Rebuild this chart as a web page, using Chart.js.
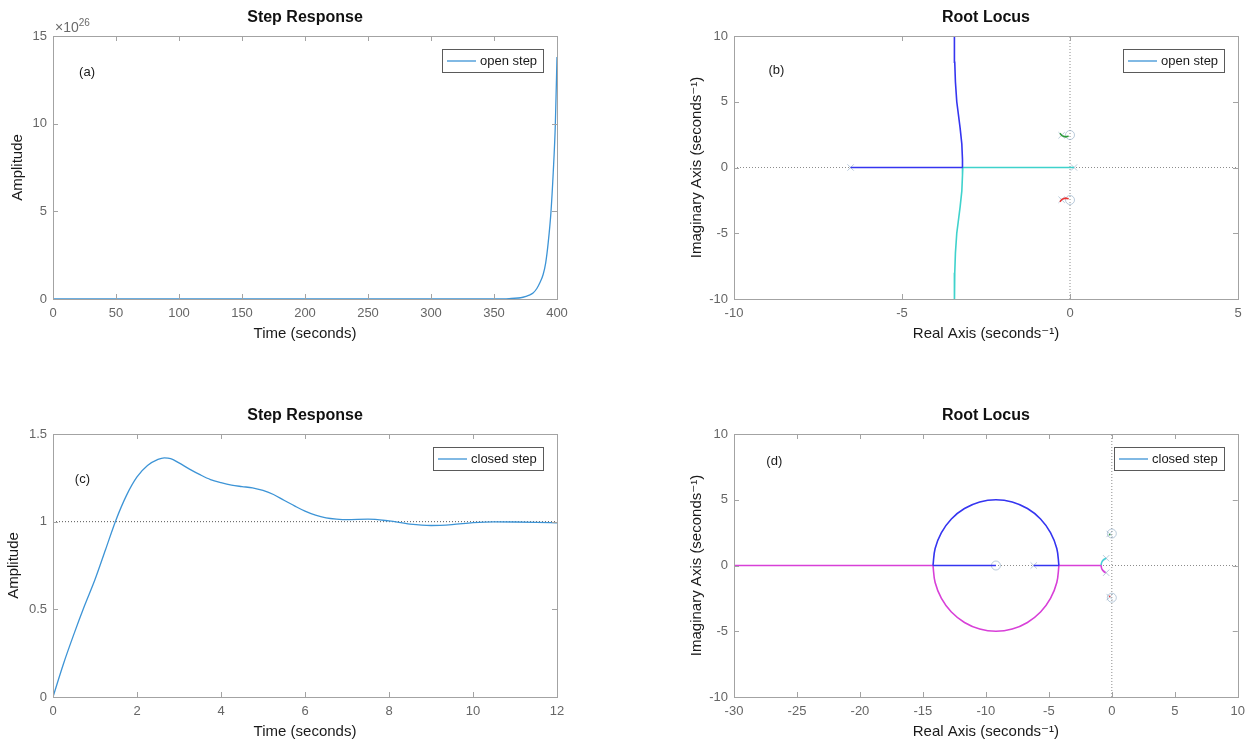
<!DOCTYPE html>
<html>
<head>
<meta charset="utf-8">
<title>Step Response / Root Locus</title>
<script src="https://cdn.jsdelivr.net/npm/chart.js@4.4.1/dist/chart.umd.min.js"></script>
<style>
    html, body { margin: 0; padding: 0; background: #fff; }
    #page { position: relative; width: 1252px; height: 745px; overflow: hidden; }
    .panel { position: absolute; width: 626px; height: 347px; }
    .panel canvas { display: block; }
</style>
</head>
<body>
<div id="page">
    <div class="panel" style="left:0;top:0"><canvas id="chartA" width="626" height="347"></canvas></div>
    <div class="panel" style="left:626px;top:0"><canvas id="chartB" width="626" height="347"></canvas></div>
    <div class="panel" style="left:0;top:398px"><canvas id="chartC" width="626" height="347"></canvas></div>
    <div class="panel" style="left:626px;top:398px"><canvas id="chartD" width="626" height="347"></canvas></div>
</div>
<script>
// (a) open loop step response, amplitude in units of 1e26
const openStepTime = [0, 100, 200, 300, 350, 362, 373, 378, 381, 384, 386.3, 389, 391, 393, 395.25, 397, 398.7, 400];
const openStepAmp = [0, 0, 0, 0, 0, 0.02, 0.1, 0.22, 0.34, 0.6, 0.91, 1.4, 2.05, 3.2, 5, 7.2, 10, 13.8];

// (c) closed loop step response
const closedStepTime = [0, 0.25, 0.5, 0.75, 1, 1.25, 1.5, 1.75, 2, 2.25, 2.5, 2.65, 2.8, 3, 3.25, 3.5, 3.75, 4, 4.25, 4.5,
    4.75, 5, 5.25, 5.5, 5.75, 6, 6.25, 6.5, 6.75, 7, 7.5, 8, 8.5, 9, 9.5, 10, 10.5, 11, 11.5, 12];
const closedStepAmp = [0, 0.19, 0.36, 0.52, 0.67, 0.84, 1.01, 1.15, 1.255, 1.32, 1.355, 1.364, 1.36, 1.335, 1.3, 1.268, 1.24, 1.222, 1.208, 1.2,
    1.193, 1.178, 1.155, 1.122, 1.09, 1.06, 1.037, 1.022, 1.015, 1.012, 1.015, 1.004, 0.986, 0.978, 0.983, 0.994, 0.999, 0.998, 0.996, 0.993];
const steadyLine = [[0, 1], [12, 1]];

// (b) open loop root locus branches [re, im]
const openBlue = [[-6.53, 0], [-3.19, 0], [-3.2, 0.6], [-3.22, 1.8], [-3.27, 3], [-3.33, 4.2], [-3.37, 5], [-3.41, 6.5], [-3.43, 8], [-3.44, 10.5]];
const openCyan = [[0.12, 0], [-3.19, 0], [-3.2, -0.6], [-3.22, -1.8], [-3.27, -3], [-3.33, -4.2], [-3.37, -5], [-3.41, -6.5], [-3.43, -8], [-3.44, -10.5]];
const openGreen = [[-0.3, 2.6], [-0.24, 2.42], [-0.14, 2.33], [-0.04, 2.38]];
const openRed = [[-0.3, -2.6], [-0.24, -2.42], [-0.14, -2.33], [-0.04, -2.38]];
const openPoles = [[-6.53, 0], [0.12, 0], [-0.25, 2.45], [-0.25, -2.45]];
const openZeros = [[0, 2.47], [0, -2.47]];

// (d) closed loop root locus branches [re, im]
const closedBlueReal1 = [[-6.2, 0], [-4.2, 0]];
const closedBlueReal2 = [[-14.2, 0], [-9.2, 0]];
const closedBlueArc = [[-4.2, 0], [-4.37, 1.29], [-4.87, 2.5], [-5.66, 3.54], [-6.7, 4.33], [-7.91, 4.83], [-9.2, 5],
    [-10.49, 4.83], [-11.7, 4.33], [-12.74, 3.54], [-13.53, 2.5], [-14.03, 1.29], [-14.2, 0]];
const closedMagentaReal1 = [[-0.85, 0], [-4.2, 0]];
const closedMagentaReal2 = [[-14.2, 0], [-30, 0]];
const closedMagentaArc = [[-4.2, 0], [-4.37, -1.29], [-4.87, -2.5], [-5.66, -3.54], [-6.7, -4.33], [-7.91, -4.83], [-9.2, -5],
    [-10.49, -4.83], [-11.7, -4.33], [-12.74, -3.54], [-13.53, -2.5], [-14.03, -1.29], [-14.2, 0]];
const closedMagentaHook = [[-0.5, -0.55], [-0.65, -0.45], [-0.8, -0.25], [-0.85, 0]];
const closedCyan = [[-0.45, 0.55], [-0.65, 0.45], [-0.8, 0.25], [-0.85, 0]];
const closedGreen = [[-0.22, 2.36], [-0.12, 2.34]];
const closedRed = [[-0.22, -2.36], [-0.12, -2.34]];
const closedPoles = [[-6.2, 0], [-0.45, 0.55], [-0.45, -0.55], [-0.17, 2.4], [-0.17, -2.4]];
const closedZeros = [[-9.2, 0], [0, 2.43], [0, -2.45]];

const FONT = '"Liberation Sans", Arial, Helvetica, "DejaVu Sans", sans-serif';
const STEP_COLOR = "#3d94d6";
const BLUE = "#3535f0";
const CYAN = "#3fd2cc";
const MAGENTA = "#d840d8";
const GREEN = "#2c9a3a";
const RED = "#ea3434";
const MARKER = "rgba(130,160,190,0.55)";
const AXIS_DOTS = "#8c8c8c";
const LOCUS_WIDTH = 1.6;
Chart.defaults.font.family = FONT;

function toPoints(pairs) {
    return pairs.map((p) => ({ x: p[0], y: p[1] }));
}

function toXY(xs, ys) {
    return xs.map((x, i) => ({ x: x, y: ys[i] }));
}

function lineSet(points, color, extra) {
    return Object.assign({
        data: points,
        showLine: true,
        borderColor: color,
        borderWidth: 1.3,
        pointRadius: 0,
        fill: false,
        tension: 0,
    }, extra || {});
}

// root locus branch
function locusSet(pairs, color, tension) {
    return lineSet(toPoints(pairs), color, { borderWidth: LOCUS_WIDTH, tension: tension || 0 });
}

function dottedSet(pairs, color) {
    return lineSet(toPoints(pairs), color, { borderDash: [1, 2], borderWidth: 1 });
}

function markerSet(pairs, style, color) {
    return {
        data: toPoints(pairs),
        showLine: false,
        pointStyle: style,
        pointRadius: 4.5,
        borderColor: color,
        backgroundColor: "rgba(0,0,0,0)",
        borderWidth: 1,
    };
}

// box, inward ticks, legend, panel label and exponent
const axesBox = {
    id: "axesBox",
    afterDatasetsDraw(chart, args, opts) {
        const { ctx, chartArea: a, scales } = chart;
        const sx = scales.x;
        const sy = scales.y;
        ctx.save();

        // frame
        ctx.strokeStyle = "#a3a3a3";
        ctx.lineWidth = 1;
        ctx.strokeRect(Math.round(a.left) + 0.5, Math.round(a.top) + 0.5, Math.round(a.width), Math.round(a.height));

        // inward ticks on all four sides
        ctx.beginPath();
        sx.ticks.forEach((t) => {
            const px = Math.round(sx.getPixelForValue(t.value)) + 0.5;
            ctx.moveTo(px, a.bottom);
            ctx.lineTo(px, a.bottom - 5);
            ctx.moveTo(px, a.top);
            ctx.lineTo(px, a.top + 5);
        });
        sy.ticks.forEach((t) => {
            const py = Math.round(sy.getPixelForValue(t.value)) + 0.5;
            ctx.moveTo(a.left, py);
            ctx.lineTo(a.left + 5, py);
            ctx.moveTo(a.right, py);
            ctx.lineTo(a.right - 5, py);
        });
        ctx.stroke();

        // legend box
        if (opts.legendText) {
            ctx.font = "13px " + FONT;
            const tw = ctx.measureText(opts.legendText).width;
            const w = Math.round(4 + 29 + 5 + tw + 6);
            const h = 23;
            const bx = Math.round(a.right - 14 - w);
            const by = Math.round(a.top + 13);
            ctx.fillStyle = "#fff";
            ctx.fillRect(bx, by, w, h);
            ctx.strokeStyle = "#5a5a5a";
            ctx.strokeRect(bx + 0.5, by + 0.5, w, h);
            ctx.strokeStyle = opts.legendColor;
            ctx.lineWidth = 1.3;
            ctx.beginPath();
            ctx.moveTo(bx + 5, by + h / 2 + 0.5);
            ctx.lineTo(bx + 34, by + h / 2 + 0.5);
            ctx.stroke();
            ctx.fillStyle = "#1a1a1a";
            ctx.textAlign = "left";
            ctx.textBaseline = "middle";
            ctx.fillText(opts.legendText, bx + 38, by + h / 2 + 1);
        }

        // panel label like (a)
        if (opts.panel) {
            ctx.font = "13px " + FONT;
            ctx.fillStyle = "#1a1a1a";
            ctx.textAlign = "center";
            ctx.textBaseline = "middle";
            ctx.fillText(opts.panel.text, sx.getPixelForValue(opts.panel.x), sy.getPixelForValue(opts.panel.y));
        }

        // y exponent, e.g. x10^26
        if (opts.exponent) {
            ctx.fillStyle = "#6a6a6a";
            ctx.textAlign = "left";
            ctx.textBaseline = "alphabetic";
            ctx.font = "14px " + FONT;
            ctx.fillText("\u00d710", a.left + 2, a.top - 4);
            const bw = ctx.measureText("\u00d710").width;
            ctx.font = "10px " + FONT;
            ctx.fillText(opts.exponent, a.left + 2 + bw, a.top - 10);
        }
        ctx.restore();
    },
};

function axis(o, isX) {
    const cfg = {
        type: "linear",
        min: o.min,
        max: o.max,
        ticks: {
            stepSize: o.step,
            color: "#666",
            font: { size: 13 },
            padding: isX ? 7 : 6,
            autoSkip: false,
            maxRotation: 0,
            callback: (value) => String(value),
        },
        grid: { display: false, drawTicks: false },
        border: { display: false },
        title: {
            display: true,
            text: o.title,
            color: "#1a1a1a",
            font: { size: 15 },
            padding: isX ? { top: 0, bottom: 1 } : { top: o.titlePad, bottom: 0 },
        },
    };
    cfg.afterFit = function (scale) {
        if (isX) {
            scale.height = 45;
        } else {
            scale.width = o.width;
        }
    };
    return cfg;
}

function makeChart(canvasId, o) {
    return new Chart(document.getElementById(canvasId), {
        type: "scatter",
        data: { datasets: o.datasets },
        plugins: [axesBox],
        options: {
            responsive: false,
            animation: false,
            events: [],
            layout: { padding: { left: 0, right: o.padRight, top: 0, bottom: 3 } },
            plugins: {
                legend: { display: false },
                tooltip: { enabled: false },
                title: {
                    display: true,
                    fullSize: false,
                    text: o.title,
                    color: "#111",
                    font: { size: 16, weight: "bold" },
                    padding: { top: 8.4, bottom: 8.4 },
                },
                axesBox: {
                    legendText: o.legendText,
                    legendColor: STEP_COLOR,
                    panel: o.panel,
                    exponent: o.exponent,
                },
            },
            scales: {
                x: axis(o.x, true),
                y: axis(o.y, false),
            },
        },
    });
}

// datasets listed first are drawn on top
makeChart("chartA", {
    title: "Step Response",
    legendText: "open step",
    panel: { text: "(a)", x: 27, y: 12.95 },
    exponent: "26",
    padRight: 69,
    x: { min: 0, max: 400, step: 50, title: "Time (seconds)" },
    y: { min: 0, max: 15, step: 5, title: "Amplitude", width: 53, titlePad: 9 },
    datasets: [
        lineSet(toXY(openStepTime, openStepAmp), STEP_COLOR, { cubicInterpolationMode: "monotone" }),
    ],
});

makeChart("chartB", {
    title: "Root Locus",
    legendText: "open step",
    panel: { text: "(b)", x: -8.74, y: 7.4 },
    padRight: 14,
    x: { min: -10, max: 5, step: 5, title: "Real Axis (seconds\u207b\u00b9)" },
    y: { min: -10, max: 10, step: 5, title: "Imaginary Axis (seconds\u207b\u00b9)", width: 108, titlePad: 62 },
    datasets: [
        locusSet(openBlue, BLUE),
        locusSet(openCyan, CYAN),
        locusSet(openGreen, GREEN),
        locusSet(openRed, RED),
        markerSet(openPoles, "crossRot", MARKER),
        markerSet(openZeros, "circle", MARKER),
        dottedSet([[-10, 0], [5, 0]], AXIS_DOTS),
        dottedSet([[0, -10], [0, 10]], AXIS_DOTS),
    ],
});

makeChart("chartC", {
    title: "Step Response",
    legendText: "closed step",
    panel: { text: "(c)", x: 0.7, y: 1.24 },
    padRight: 69,
    x: { min: 0, max: 12, step: 2, title: "Time (seconds)" },
    y: { min: 0, max: 1.5, step: 0.5, title: "Amplitude", width: 53, titlePad: 5 },
    datasets: [
        lineSet(toXY(closedStepTime, closedStepAmp), STEP_COLOR, { cubicInterpolationMode: "monotone" }),
        dottedSet(steadyLine, "#555"),
    ],
});

makeChart("chartD", {
    title: "Root Locus",
    legendText: "closed step",
    panel: { text: "(d)", x: -26.8, y: 7.9 },
    padRight: 14,
    x: { min: -30, max: 10, step: 5, title: "Real Axis (seconds\u207b\u00b9)" },
    y: { min: -10, max: 10, step: 5, title: "Imaginary Axis (seconds\u207b\u00b9)", width: 108, titlePad: 62 },
    datasets: [
        locusSet(closedBlueReal1, BLUE),
        locusSet(closedBlueReal2, BLUE),
        locusSet(closedBlueArc, BLUE, 0.4),
        locusSet(closedMagentaReal1, MAGENTA),
        locusSet(closedMagentaReal2, MAGENTA),
        locusSet(closedMagentaArc, MAGENTA, 0.4),
        locusSet(closedMagentaHook, MAGENTA, 0.4),
        locusSet(closedCyan, "#45cfd6", 0.4),
        locusSet(closedGreen, GREEN),
        locusSet(closedRed, RED),
        markerSet(closedPoles, "crossRot", MARKER),
        markerSet(closedZeros, "circle", MARKER),
        dottedSet([[-30, 0], [10, 0]], AXIS_DOTS),
        dottedSet([[0, -10], [0, 10]], AXIS_DOTS),
    ],
});
</script>
</body>
</html>
